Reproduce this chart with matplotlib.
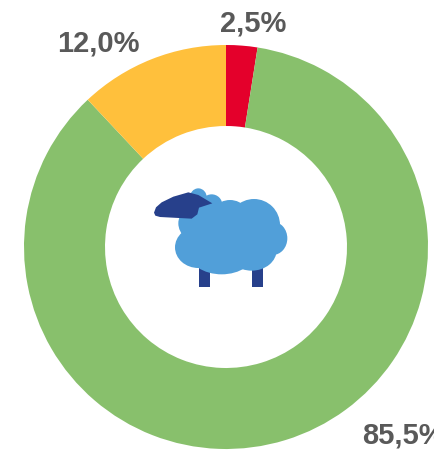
import matplotlib
matplotlib.use("Agg")
import matplotlib.pyplot as plt
from matplotlib.patches import Ellipse, Rectangle, Polygon

values = [2.5, 85.5, 12.0]
labels = ["2,5%", "85,5%", "12,0%"]
colors = ["#E4002B", "#88C06C", "#FFC03C"]

W, H = 434, 453
fig = plt.figure(figsize=(W / 100, H / 100), dpi=100)
ax = fig.add_axes([0, 0, 1, 1])

cx, cy, R = 226, H - 247, 202
ax.pie(values, colors=colors, startangle=90, counterclock=False, center=(cx, cy), radius=R,
       wedgeprops=dict(width=R - 121, linewidth=0), frame=True)
ax.set_xlim(0, W)
ax.set_ylim(0, H)
ax.set_aspect("auto")
ax.axis("off")

# Label placement (pixels from the top-left corner); 85,5% runs off the edge as in the reference
label_pos = [(220, 24, "left"), (362, 436, "left"), (57, 44, "left")]
for t, (x, y, ha) in zip(labels, label_pos):
    ax.text(x, H - y, t, ha=ha, va="center", fontsize=21, fontweight="bold",
            family="Liberation Sans", color="#595959", clip_on=True)

# Sheep icon, outlined in reference zoom coordinates
def px(zx):
    return zx / 3 + 130
def py(zy):
    return H - (zy / 3 + 170)

BLUE = "#519FD9"
NAVY = "#27408B"
for x0, x1 in [(208, 241), (365, 398)]:
    ax.add_patch(Rectangle((px(x0), py(350)), (x1 - x0) / 3, 70 / 3, color=NAVY, lw=0, zorder=3))

blobs = [(372, 165, 78, 78), (300, 170, 70, 80), (215, 160, 70, 60), (205, 232, 70, 62),
         (275, 245, 100, 68), (365, 240, 75, 62), (428, 205, 44, 50), (205, 85, 26, 30),
         (245, 105, 32, 32), (300, 200, 120, 90), (230, 130, 60, 45)]
for x, y, rx, ry in blobs:
    ax.add_patch(Ellipse((px(x), py(y)), 2 * rx / 3, 2 * ry / 3, color=BLUE, lw=0, zorder=4))

head = [(72, 128), (78, 112), (95, 97), (130, 80), (175, 67), (205, 75), (247, 100), (207, 113),
        (202, 133), (185, 146), (90, 141), (76, 137)]
ax.add_patch(Polygon([(px(x), py(y)) for x, y in head], closed=True, color=NAVY, lw=0, zorder=5))

fig.savefig("out.png", dpi=100)
